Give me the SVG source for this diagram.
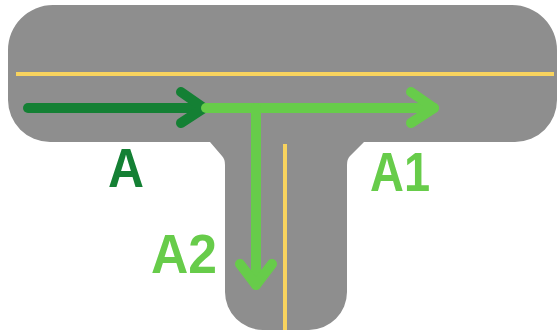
<svg xmlns="http://www.w3.org/2000/svg" width="558" height="334" viewBox="0 0 558 334">
<style>
.road{fill:#8e8e8e}
.yl{stroke:#f8d35e;stroke-width:4;fill:none}
.dk{stroke:#148034;stroke-width:10;fill:none;stroke-linecap:round;stroke-linejoin:round}
.lt{stroke:#67cc4a;stroke-width:10;fill:none;stroke-linecap:round;stroke-linejoin:round}
.lbl{font-family:"Liberation Sans",Arial,sans-serif;font-weight:bold;font-size:55px}
</style>
<rect width="558" height="334" fill="#ffffff"/>
<g id="road">
<path class="road" d="M 53,5 H 512 A 45,45 0 0 1 557,50 V 100 A 42,42 0 0 1 515,142 H 364 L 350,156 Q 347,159 347,165 V 292 A 38,38 0 0 1 309,330 H 263 A 38,38 0 0 1 225,292 V 165 Q 225,159 222,156 L 210,142 H 50 A 42,42 0 0 1 8,100 V 50 A 45,45 0 0 1 53,5 Z"/>
<line class="yl" x1="16" y1="74" x2="554" y2="74"/>
<line class="yl" x1="285" y1="144" x2="285" y2="330"/>
</g>
<g id="connectors">
<g id="arrow-A">
<line class="dk" x1="28" y1="108" x2="204" y2="108"/>
<polyline class="dk" points="181,92 204,108 181,123"/>
</g>
<g id="arrow-A1">
<line class="lt" x1="206" y1="108" x2="434" y2="108"/>
<polyline class="lt" points="411,92 434,108 411,123"/>
</g>
<g id="arrow-A2">
<line class="lt" x1="256" y1="108" x2="256" y2="285"/>
<polyline class="lt" points="240,264 256,285 272,264"/>
</g>
</g>
<g id="label-A"><text class="lbl" x="108" y="187" fill="#148034" textLength="36" lengthAdjust="spacingAndGlyphs">A</text></g>
<g id="label-A1"><text class="lbl" x="370" y="191" fill="#67cc4a" textLength="60" lengthAdjust="spacingAndGlyphs">A1</text></g>
<g id="label-A2"><text class="lbl" x="151" y="273" fill="#67cc4a" textLength="66" lengthAdjust="spacingAndGlyphs">A2</text></g>
</svg>
